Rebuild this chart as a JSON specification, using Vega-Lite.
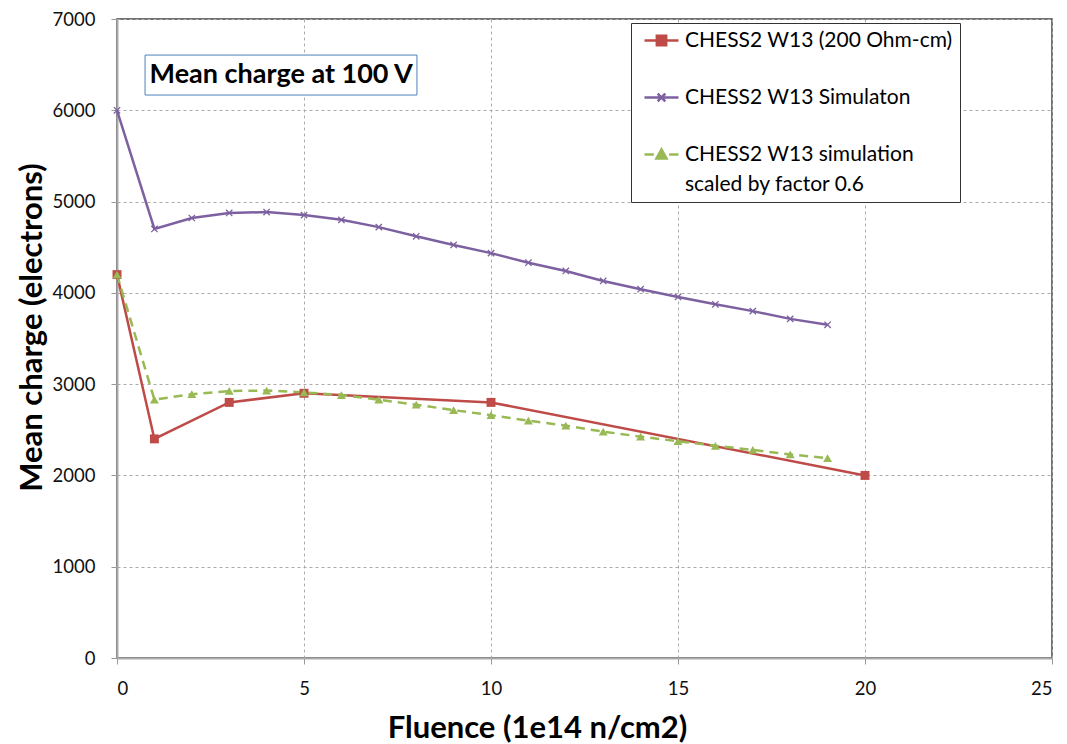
{
  "$schema": "https://vega.github.io/schema/vega-lite/v6.json",
  "width": 935,
  "height": 639,
  "autosize": {"type": "none"},
  "padding": {"left": 117, "top": 19, "right": 15, "bottom": 86},
  "background": "white",
  "config": {
    "font": "Lato",
    "view": {"stroke": "#444", "strokeWidth": 1.5},
    "axis": {
      "labelFont": "Lato",
      "labelFontSize": 18.5,
      "labelColor": "#111",
      "titleFont": "Lato",
      "titleFontSize": 31,
      "titleFontWeight": "bold",
      "titleColor": "#000",
      "gridDash": [3, 3],
      "gridColor": "#aaa",
      "gridWidth": 1,
      "domainColor": "#aaa",
      "domainWidth": 2,
      "tickColor": "#999",
      "tickSize": 6
    }
  },
  "datasets": {
    "main": [
      {"fluence": 0, "charge": 4200, "series": "CHESS2 W13 (200 Ohm-cm)"},
      {"fluence": 1, "charge": 2400, "series": "CHESS2 W13 (200 Ohm-cm)"},
      {"fluence": 3, "charge": 2800, "series": "CHESS2 W13 (200 Ohm-cm)"},
      {"fluence": 5, "charge": 2900, "series": "CHESS2 W13 (200 Ohm-cm)"},
      {"fluence": 10, "charge": 2800, "series": "CHESS2 W13 (200 Ohm-cm)"},
      {"fluence": 20, "charge": 2000, "series": "CHESS2 W13 (200 Ohm-cm)"},
      {"fluence": 0, "charge": 6000, "series": "CHESS2 W13 Simulaton"},
      {"fluence": 1, "charge": 4700, "series": "CHESS2 W13 Simulaton"},
      {"fluence": 2, "charge": 4820, "series": "CHESS2 W13 Simulaton"},
      {"fluence": 3, "charge": 4875, "series": "CHESS2 W13 Simulaton"},
      {"fluence": 4, "charge": 4885, "series": "CHESS2 W13 Simulaton"},
      {"fluence": 5, "charge": 4852, "series": "CHESS2 W13 Simulaton"},
      {"fluence": 6, "charge": 4800, "series": "CHESS2 W13 Simulaton"},
      {"fluence": 7, "charge": 4720, "series": "CHESS2 W13 Simulaton"},
      {"fluence": 8, "charge": 4620, "series": "CHESS2 W13 Simulaton"},
      {"fluence": 9, "charge": 4525, "series": "CHESS2 W13 Simulaton"},
      {"fluence": 10, "charge": 4435, "series": "CHESS2 W13 Simulaton"},
      {"fluence": 11, "charge": 4330, "series": "CHESS2 W13 Simulaton"},
      {"fluence": 12, "charge": 4240, "series": "CHESS2 W13 Simulaton"},
      {"fluence": 13, "charge": 4130, "series": "CHESS2 W13 Simulaton"},
      {"fluence": 14, "charge": 4040, "series": "CHESS2 W13 Simulaton"},
      {"fluence": 15, "charge": 3955, "series": "CHESS2 W13 Simulaton"},
      {"fluence": 16, "charge": 3875, "series": "CHESS2 W13 Simulaton"},
      {"fluence": 17, "charge": 3800, "series": "CHESS2 W13 Simulaton"},
      {"fluence": 18, "charge": 3715, "series": "CHESS2 W13 Simulaton"},
      {"fluence": 19, "charge": 3650, "series": "CHESS2 W13 Simulaton"},
      {"fluence": 0, "charge": 4200, "series": "CHESS2 W13 simulation scaled by factor 0.6"},
      {"fluence": 1, "charge": 2830, "series": "CHESS2 W13 simulation scaled by factor 0.6"},
      {"fluence": 2, "charge": 2890, "series": "CHESS2 W13 simulation scaled by factor 0.6"},
      {"fluence": 3, "charge": 2925, "series": "CHESS2 W13 simulation scaled by factor 0.6"},
      {"fluence": 4, "charge": 2930, "series": "CHESS2 W13 simulation scaled by factor 0.6"},
      {"fluence": 5, "charge": 2910, "series": "CHESS2 W13 simulation scaled by factor 0.6"},
      {"fluence": 6, "charge": 2880, "series": "CHESS2 W13 simulation scaled by factor 0.6"},
      {"fluence": 7, "charge": 2830, "series": "CHESS2 W13 simulation scaled by factor 0.6"},
      {"fluence": 8, "charge": 2775, "series": "CHESS2 W13 simulation scaled by factor 0.6"},
      {"fluence": 9, "charge": 2715, "series": "CHESS2 W13 simulation scaled by factor 0.6"},
      {"fluence": 10, "charge": 2660, "series": "CHESS2 W13 simulation scaled by factor 0.6"},
      {"fluence": 11, "charge": 2600, "series": "CHESS2 W13 simulation scaled by factor 0.6"},
      {"fluence": 12, "charge": 2545, "series": "CHESS2 W13 simulation scaled by factor 0.6"},
      {"fluence": 13, "charge": 2480, "series": "CHESS2 W13 simulation scaled by factor 0.6"},
      {"fluence": 14, "charge": 2425, "series": "CHESS2 W13 simulation scaled by factor 0.6"},
      {"fluence": 15, "charge": 2375, "series": "CHESS2 W13 simulation scaled by factor 0.6"},
      {"fluence": 16, "charge": 2325, "series": "CHESS2 W13 simulation scaled by factor 0.6"},
      {"fluence": 17, "charge": 2280, "series": "CHESS2 W13 simulation scaled by factor 0.6"},
      {"fluence": 18, "charge": 2230, "series": "CHESS2 W13 simulation scaled by factor 0.6"},
      {"fluence": 19, "charge": 2190, "series": "CHESS2 W13 simulation scaled by factor 0.6"}
    ],
    "note": [
      {"x1": 0.75, "x2": 8.02, "y1": 6167, "y2": 6605, "xm": 4.39, "ym": 6386, "label": "Mean charge at 100 V"}
    ]
  },
  "layer": [
    {
      "data": {"name": "main"},
      "transform": [{"filter": "datum.series !== 'CHESS2 W13 simulation scaled by factor 0.6'"}],
      "mark": {"type": "line", "strokeWidth": 2.5},
      "encoding": {
        "x": {
          "field": "fluence", "type": "quantitative",
          "scale": {"domain": [0, 25], "nice": false},
          "axis": {"values": [0, 5, 10, 15, 20, 25], "title": "Fluence (1e14 n/cm2)", "titleX": 420, "titleY": 79, "titleBaseline": "alphabetic", "titleAlign": "center", "labelPadding": 15}
        },
        "y": {
          "field": "charge", "type": "quantitative",
          "scale": {"domain": [0, 7000], "nice": false},
          "axis": {"values": [0, 1000, 2000, 3000, 4000, 5000, 6000, 7000], "format": "d", "title": "Mean charge (electrons)", "titleX": -76, "titleY": 308, "titleBaseline": "alphabetic", "titleAlign": "center", "labelPadding": 16}
        },
        "color": {
          "field": "series", "type": "nominal",
          "scale": {
            "domain": ["CHESS2 W13 (200 Ohm-cm)", "CHESS2 W13 Simulaton", "CHESS2 W13 simulation scaled by factor 0.6"],
            "range": ["#BE4B48", "#7D60A0", "#98B954"]
          },
          "legend": {
            "orient": "none",
            "legendX": 514,
            "legendY": 4,
            "title": null,
            "fillColor": "white",
            "strokeColor": "#333",
            "padding": 7,
            "rowPadding": 35,
            "labelFont": "Lato",
            "labelFontSize": 21,
            "labelColor": "#000",
            "labelLimit": 400,
            "labelOffset": 13,
            "symbolOffset": 13,
            "symbolSize": 289,
            "symbolStrokeWidth": 2.5,
            "labelExpr": "datum.label === 'CHESS2 W13 simulation scaled by factor 0.6' ? ['CHESS2 W13 simulation', 'scaled by factor 0.6'] : datum.label === 'CHESS2 W13 (200 Ohm-cm)' ? 'CHESS2 W13 (200 Ohm-cm)    ' : datum.label",
            "encode": {
              "labels": {"update": {"lineHeight": {"value": 30}}},
              "symbols": {
                "update": {
                  "shape": {"signal": "datum.value === 'CHESS2 W13 (200 Ohm-cm)' ? 'M-2,0H2M-0.55,-0.55H0.55V0.55H-0.55Z' : datum.value === 'CHESS2 W13 Simulaton' ? 'M-2,0H2M-0.45,-0.45L0.45,0.45M-0.45,0.45L0.45,-0.45' : 'M-2,0H-0.9M0.9,0H2M0,-0.6L0.6,0.48H-0.6Z'"},
                  "fill": {"signal": "datum.value === 'CHESS2 W13 (200 Ohm-cm)' ? '#BE4B48' : datum.value === 'CHESS2 W13 Simulaton' ? 'transparent' : '#98B954'"},
                  "strokeDash": {"value": [1, 0]}
                }
              }
            }
          }
        }
      }
    },
    {
      "data": {"name": "main"},
      "transform": [{"filter": "datum.series === 'CHESS2 W13 simulation scaled by factor 0.6'"}],
      "mark": {"type": "line", "strokeWidth": 2.5, "strokeDash": [9, 6]},
      "encoding": {
        "x": {"field": "fluence", "type": "quantitative"},
        "y": {"field": "charge", "type": "quantitative"},
        "color": {"field": "series", "type": "nominal"}
      }
    },
    {
      "data": {"name": "main"},
      "transform": [{"filter": "datum.series === 'CHESS2 W13 (200 Ohm-cm)'"}],
      "mark": {"type": "point", "shape": "square", "filled": true, "size": 80, "opacity": 1},
      "encoding": {
        "x": {"field": "fluence", "type": "quantitative"},
        "y": {"field": "charge", "type": "quantitative"},
        "color": {"field": "series", "type": "nominal", "legend": null}
      }
    },
    {
      "data": {"name": "main"},
      "transform": [{"filter": "datum.series === 'CHESS2 W13 Simulaton'"}],
      "mark": {"type": "point", "shape": "M-1,-1L1,1M-1,1L1,-1", "filled": false, "size": 40, "strokeWidth": 1.3, "opacity": 1},
      "encoding": {
        "x": {"field": "fluence", "type": "quantitative"},
        "y": {"field": "charge", "type": "quantitative"},
        "color": {"field": "series", "type": "nominal", "legend": null}
      }
    },
    {
      "data": {"name": "main"},
      "transform": [{"filter": "datum.series === 'CHESS2 W13 simulation scaled by factor 0.6'"}],
      "mark": {"type": "point", "shape": "triangle-up", "filled": true, "size": 80, "opacity": 1},
      "encoding": {
        "x": {"field": "fluence", "type": "quantitative"},
        "y": {"field": "charge", "type": "quantitative"},
        "color": {"field": "series", "type": "nominal", "legend": null}
      }
    },
    {
      "data": {"name": "note"},
      "mark": {"type": "rect", "fill": "white", "stroke": "#4F81BD", "strokeWidth": 1},
      "encoding": {
        "x": {"field": "x1", "type": "quantitative"},
        "x2": {"field": "x2"},
        "y": {"field": "y1", "type": "quantitative"},
        "y2": {"field": "y2"}
      }
    },
    {
      "data": {"name": "note"},
      "mark": {"type": "text", "font": "Lato", "fontSize": 27, "fontWeight": "bold", "color": "#000", "align": "center", "baseline": "middle"},
      "encoding": {
        "x": {"field": "xm", "type": "quantitative"},
        "y": {"field": "ym", "type": "quantitative"},
        "text": {"field": "label"}
      }
    }
  ]
}
